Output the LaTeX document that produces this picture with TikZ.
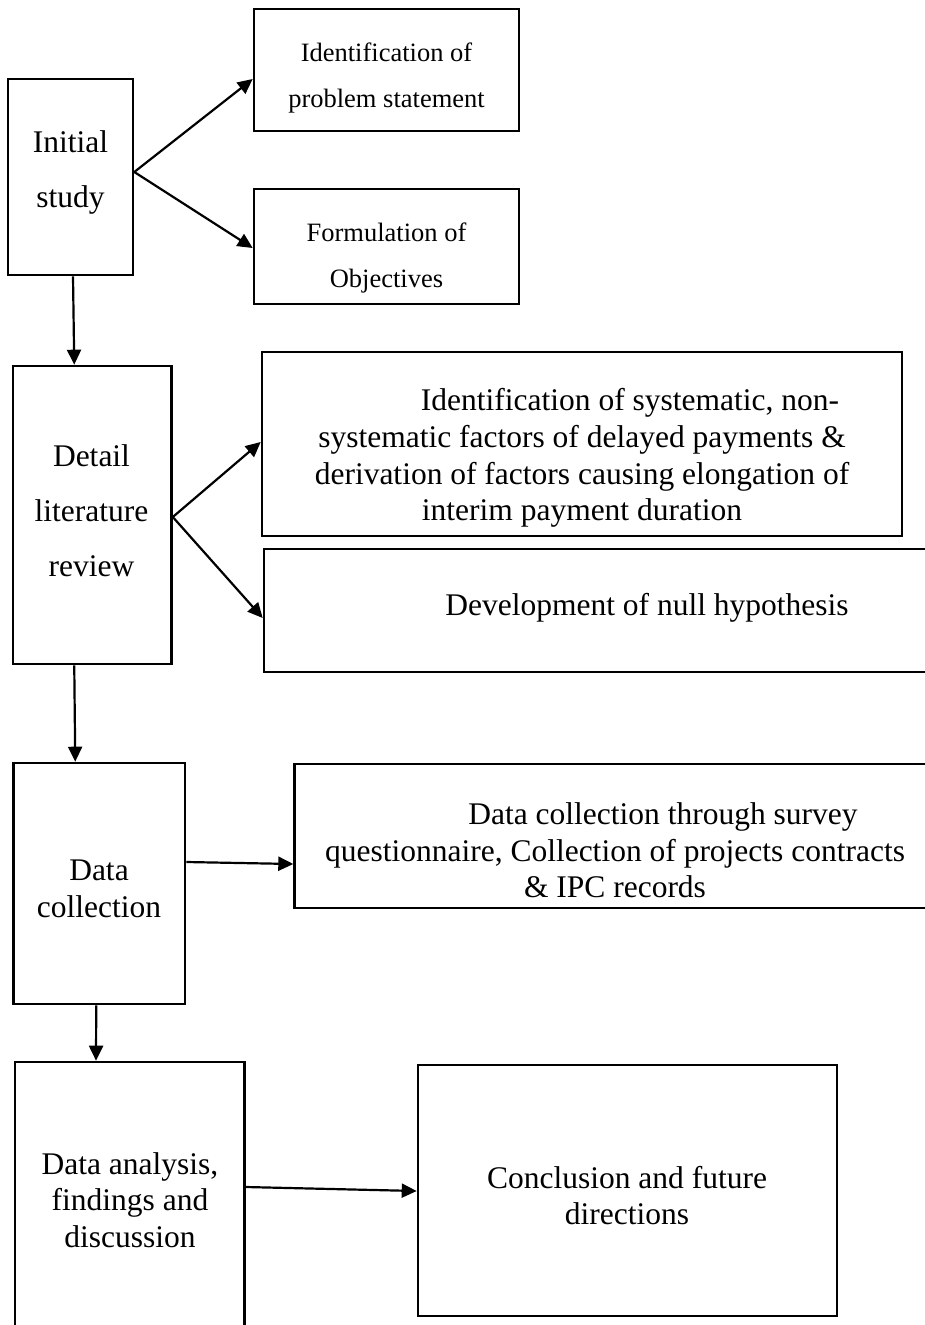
\documentclass[tikz,border=0pt]{standalone}
\usepackage{fontspec}
\setmainfont{Liberation Serif}
\usetikzlibrary{arrows.meta}
\begin{document}
\begin{tikzpicture}[x=1pt,y=-1pt,
  box/.style={draw=black, line width=2.6pt, inner sep=0pt, rectangle},
  bigtxt/.style={align=center, inner sep=0pt, font=\fontsize{31.5}{55}\selectfont},
  midtxt/.style={align=center, inner sep=0pt, font=\fontsize{31.5}{36.7}\selectfont},
  smalltxt/.style={align=center, inner sep=0pt, font=\fontsize{26.5}{46}\selectfont},
  conn/.style={line width=2.2pt, -{Triangle[length=15pt,width=14pt]}}]
\fill[white] (0,0) rectangle (924,1325);
\useasboundingbox (0,0) rectangle (924,1325);
% boxes
\node[box, minimum width=125pt, minimum height=196pt] (init) at (70.5,177) {};
\node[box, minimum width=265pt, minimum height=122pt] (ident) at (386.5,70) {};
\node[box, minimum width=265pt, minimum height=115pt] (form) at (386.5,246.5) {};
\node[box, minimum width=158.5pt, minimum height=298pt] (detail) at (92.25,515) {};
\node[box, minimum width=640pt, minimum height=184pt] (sys) at (582,444) {};
\node[box, minimum width=672pt, minimum height=123pt] (dev) at (600,610.5) {};
\node[box, minimum width=640pt, minimum height=144pt] (dcs) at (614.6,836) {};
\node[box, minimum width=171.5pt, minimum height=241pt] (dc) at (99.25,883.5) {};
\node[box, minimum width=229.5pt, minimum height=278pt] (da) at (129.75,1201) {};
\node[box, minimum width=419pt, minimum height=251pt] (concl) at (627.5,1190.5) {};
% texts
\node[bigtxt] (initT) at (70.5,172.5) {Initial\\study};
\node[smalltxt] (identT) at (386.5,77.5) {Identification of\\problem statement};
\node[smalltxt] (formT) at (386.5,257.5) {Formulation of\\Objectives};
\node[bigtxt] (detailT) at (91.5,511) {Detail\\literature\\review};
\node[midtxt] (sysT) at (582,458) {\hspace*{96pt}Identification of systematic, non-\\systematic factors of delayed payments \&\\derivation of factors causing elongation of\\interim payment duration};
\node[midtxt] (devT) at (647,608) {Development of null hypothesis};
\node[midtxt] (dcsT) at (615,850.5) {\hspace*{96pt}Data collection through survey\\questionnaire, Collection of projects contracts\\\& IPC records};
\node[midtxt] (dcT) at (99,888.5) {Data\\collection};
\node[midtxt] (daT) at (130,1200) {Data analysis,\\findings and\\discussion};
\node[midtxt] (conclT) at (627,1195.5) {Conclusion and future\\directions};
% connectors
\draw[conn] ([yshift=5pt]init.east) -- ([yshift=-9pt]ident.west);
\draw[conn] ([yshift=5pt]init.east) -- ([yshift=-1.5pt]form.west);
\draw[conn] ([xshift=2.5pt]init.south) -- ([xshift=-18pt]detail.north);
\draw[conn] ([yshift=-2pt]detail.east) -- ([yshift=2pt]sys.west);
\draw[conn] ([yshift=-2pt]detail.east) -- ([yshift=-7.5pt]dev.west);
\draw[conn] ([xshift=-18pt]detail.south) -- ([xshift=-24pt]dc.north);
\draw[conn] ([yshift=21.5pt]dc.east) -- ([yshift=-28pt]dcs.west);
\draw[conn] ([xshift=-3pt]dc.south) -- ([xshift=-33.75pt]da.north);
\draw[conn] ([yshift=14pt]da.east) -- ([yshift=-0.5pt]concl.west);
\end{tikzpicture}
\end{document}
